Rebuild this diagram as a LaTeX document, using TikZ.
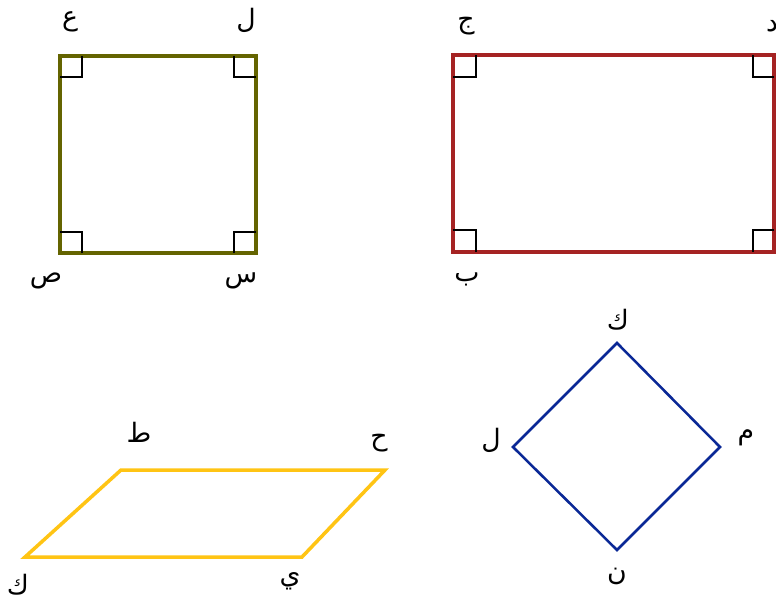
\documentclass[tikz,border=0pt]{standalone}
\usepackage{fontspec}
\TeXXeTstate=1
\newfontfamily\arabicfont[Script=Arabic]{DejaVu Sans}
\usepackage{xcolor}
\usetikzlibrary{positioning}

\definecolor{sqolive}{RGB}{100,100,0}
\definecolor{rectred}{RGB}{165,35,35}
\definecolor{paragold}{RGB}{255,196,20}
\definecolor{rhomblue}{RGB}{10,40,150}

\begin{document}
\begin{tikzpicture}[
  x=0.025cm, y=-0.025cm,
  side/.style={line width=2.5pt, draw=#1, line join=miter},
  rt/.style={draw=black, line width=1.5pt},
  lbl/.style={inner sep=0pt, font=\arabicfont\fontsize{19}{21}\selectfont}
]
  \useasboundingbox (0,0) rectangle (776,607);

  % square
  \coordinate (sqa) at (60,56);
  \coordinate (sqb) at (256,56);
  \coordinate (sqc) at (256,253);
  \coordinate (sqd) at (60,253);
  \draw[side=sqolive] (sqa) -- (sqb) -- (sqc) -- (sqd) -- cycle;
  \draw[rt] (sqa) ++(22,0) -- ++(0,21) -- ++(-22,0);
  \draw[rt] (sqb) ++(-22,0) -- ++(0,21) -- ++(22,0);
  \draw[rt] (sqc) ++(-22,0) -- ++(0,-21) -- ++(22,0);
  \draw[rt] (sqd) ++(22,0) -- ++(0,-21) -- ++(-22,0);
  \node[lbl] (lA) at (70,22)  {\beginR ع\endR};
  \node[lbl] (lB) at (246,20) {\beginR ل\endR};
  \node[lbl] (lC) at (46,281) {\beginR ص\endR};
  \node[lbl] (lD) at (241,281) {\beginR س\endR};

  % rectangle
  \coordinate (rca) at (453,55);
  \coordinate (rcb) at (774,55);
  \coordinate (rcc) at (774,252);
  \coordinate (rcd) at (453,252);
  \draw[side=rectred] (rca) -- (rcb) -- (rcc) -- (rcd) -- cycle;
  \draw[rt] (rca) ++(23,0) -- ++(0,22) -- ++(-23,0);
  \draw[rt] (rcb) ++(-21,0) -- ++(0,22) -- ++(21,0);
  \draw[rt] (rcc) ++(-21,0) -- ++(0,-22) -- ++(21,0);
  \draw[rt] (rcd) ++(23,0) -- ++(0,-22) -- ++(-23,0);
  \node[lbl] (rA) at (466,26)  {\beginR ج\endR};
  \node[lbl] (rB) at (772,26)  {\beginR د\endR};
  \node[lbl] (rC) at (467,279) {\beginR ب\endR};
  \node[lbl] (rD) at (781,284) {\beginR أ\endR};

  % parallelogram
  \coordinate (pga) at (121,470);
  \coordinate (pgb) at (385,470);
  \coordinate (pgc) at (302,557);
  \coordinate (pgd) at (25,557);
  \draw[side=paragold] (pga) -- (pgb) -- (pgc) -- (pgd) -- cycle;
  \node[lbl] (pA) at (139,432) {\beginR ط\endR};
  \node[lbl] (pB) at (379,443) {\beginR ح\endR};
  \node[lbl] (pC) at (18,585)  {\beginR ك\endR};
  \node[lbl] (pD) at (290,581) {\beginR ي\endR};

  % rhombus
  \coordinate (rha) at (617,343);
  \coordinate (rhb) at (720,447);
  \coordinate (rhc) at (617,550);
  \coordinate (rhd) at (513,447);
  \draw[side=rhomblue, line width=1.8pt] (rha) -- (rhb) -- (rhc) -- (rhd) -- cycle;
  \node[lbl] (hA) at (618,320) {\beginR ك\endR};
  \node[lbl] (hB) at (746,438) {\beginR م\endR};
  \node[lbl] (hC) at (617,576) {\beginR ن\endR};
  \node[lbl] (hD) at (491,440) {\beginR ل\endR};
\end{tikzpicture}
\end{document}
